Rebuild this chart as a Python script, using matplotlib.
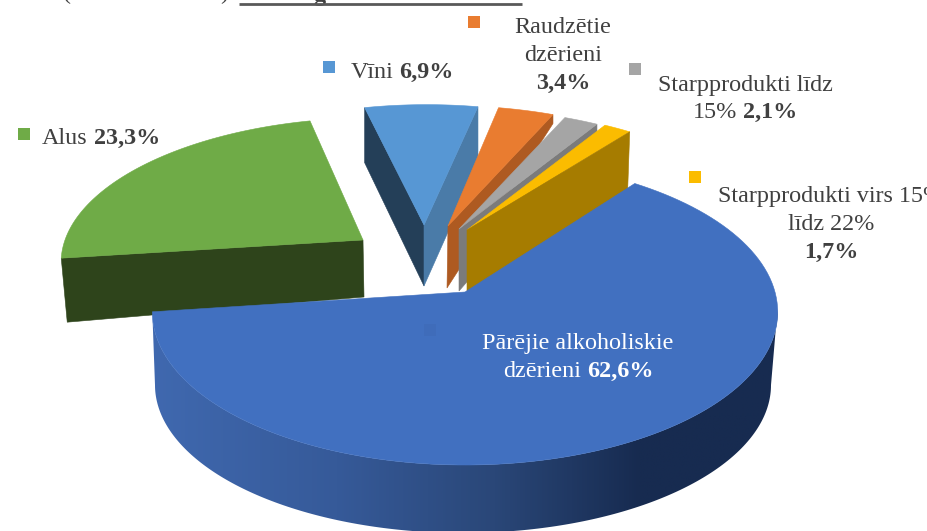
import numpy as np
import matplotlib
matplotlib.use("Agg")
import matplotlib.pyplot as plt
from matplotlib.patches import Polygon, Rectangle
from matplotlib.colors import LinearSegmentedColormap

# ---- data ----
categories = ["Pārējie alkoholiskie dzērieni", "Starpprodukti virs 15% līdz 22%",
              "Starpprodukti līdz 15%", "Raudzētie dzērieni", "Vīni", "Alus"]
values = [62.6, 1.7, 2.1, 3.4, 6.9, 23.3]
colors = ["#4170C0", "#FBBC00", "#A5A5A5", "#E97C30", "#5797D4", "#6FAB47"]

# ---- layout (pixels) ----
FONT = "Liberation Serif"
TEXT = "#404040"
START = 52.8          # angle where the big slice ends; others follow counter-clockwise
W, H = 928, 531

# slice: top apex, horizontal / vertical radius, perspective, skew
geo = {
    "Alus": dict(apex=(363, 240), A=298, a=138, c=.13, s=9.3),
    "Vīni": dict(apex=(424, 225), A=297, a=136, c=.13, s=2.5),
    "Raudzētie dzērieni": dict(apex=(448, 226), A=297, a=136, c=.13, s=-1),
    "Starpprodukti līdz 15%": dict(apex=(459, 229), A=297, a=136, c=.13, s=0),
    "Starpprodukti virs 15% līdz 22%": dict(apex=(467, 230), A=297, a=136, c=.13, s=0),
}
MAIN = dict(apex=(465, 292), A=310, a=150.4, c=.1307, s=0)
MAIN_B = dict(apex=(463, 385), A=308, a=148, c=0, s=0)

plt.rcParams["font.family"] = [FONT, "DejaVu Sans"]
fig = plt.figure(figsize=(W / 100, H / 100), dpi=100)
ax = fig.add_axes([0, 0, 1, 1])
ax.axis("off")


def pt(theta, apex, A, a, c, s):
    t = np.radians(theta)
    u, v = np.cos(t), np.sin(t)
    w = 1 + c * v
    return np.column_stack([apex[0] + A * u / w + s * v, apex[1] - a * v / w])


def wedge_points(t0, t1, g):
    arc = pt(np.linspace(t0, t1, 120), **g)
    return np.vstack([[g["apex"]], arc])


def poly(pts, color, z):
    p = Polygon(pts, closed=True, facecolor=color, edgecolor=color, linewidth=.4, zorder=z)
    ax.add_patch(p)
    return p


# angles from the values
spans = [v / sum(values) * 360 for v in values]
bounds = {}
cur = START
for name, sp in zip(categories[1:], spans[1:]):
    bounds[name] = (cur, cur + sp)
    cur += sp
main_bounds = (cur, START + 360)
col = dict(zip(categories, colors))


def wall(name, end, drop_apex, drop_outer, dx_apex, dx_outer, color, z):
    g = geo[name]
    p_end = pt(np.array([end]), **g)[0]
    ax_, ay_ = g["apex"]
    q = [(ax_, ay_), tuple(p_end), (p_end[0] + dx_outer, p_end[1] + drop_outer),
         (ax_ + dx_apex, ay_ + drop_apex)]
    poly(q, color, z)


# Alus
n = "Alus"
wall(n, bounds[n][1], 57, 64, 1, 6, "#2E441B", 1)
poly(wedge_points(*bounds[n], geo[n]), col[n], 2)
# Vīni
n = "Vīni"
wall(n, bounds[n][1], 61, 55, 0, 0, "#243F58", 3)
wall(n, bounds[n][0], 61, 58, 0, 0, "#4A7BA8", 3)
poly(wedge_points(*bounds[n], geo[n]), col[n], 4)
# Raudzētie
n = "Raudzētie dzērieni"
wall(n, bounds[n][0], 62, 9, -1, 0, "#AE5A21", 5)
poly(wedge_points(*bounds[n], geo[n]), col[n], 6)
# Starpprodukti līdz 15%
n = "Starpprodukti līdz 15%"
wall(n, bounds[n][0], 62, 8, 0, 0, "#7B7B7B", 7)
poly(wedge_points(*bounds[n], geo[n]), col[n], 8)
# Starpprodukti virs 15%
n = "Starpprodukti virs 15% līdz 22%"
wall(n, bounds[n][0], 62, 57, 0, -2, "#A67C00", 10)
poly(wedge_points(*bounds[n], geo[n]), col[n], 9)

# big slice: gradient side wall + top
t0 = main_bounds[0]
top_arc = pt(np.linspace(t0, 354, 200), **MAIN)
bot_arc = pt(np.linspace(360, 180, 200), **MAIN_B)
clip = Polygon(np.vstack([top_arc, bot_arc]), closed=True, facecolor="none", edgecolor="none", zorder=11)
ax.add_patch(clip)
cmap = LinearSegmentedColormap.from_list(
    "w", [(0, "#4069B0"), (.3, "#365A99"), (.55, "#2A4778"), (.78, "#172B50"), (1, "#172B50")])
im = ax.imshow(np.linspace(0, 1, 512)[None, :], extent=(146, 780, H + 10, 290), cmap=cmap,
               aspect="auto", zorder=11)
im.set_clip_path(clip)
poly(wedge_points(*main_bounds, MAIN), col[categories[0]], 12)

ax.set_xlim(0, W)
ax.set_ylim(H, 0)

# ---- legend keys ----
keys = {"Raudzētie dzērieni": (468, 16), "Vīni": (323, 61), "Starpprodukti līdz 15%": (629, 63),
        "Starpprodukti virs 15% līdz 22%": (689, 171), "Alus": (18, 128)}
for k, (x, y) in keys.items():
    ax.add_patch(Rectangle((x, y), 12, 12, facecolor=col[k], edgecolor="none", zorder=20))
ax.add_patch(Rectangle((424, 324), 12, 12, facecolor="#3F6CBA", edgecolor="none", zorder=20))

# ---- labels ----
FS = 17.4
fig.canvas.draw()
rend = fig.canvas.get_renderer()


def pct(name):
    return f"{values[categories.index(name)]:.1f}".replace(".", ",") + "%"


def line(cx, y, runs, color=TEXT):
    """Centre a line made of (text, bold) runs on cx."""
    arts = [ax.text(0, y, t, fontsize=FS, color=color, va="center_baseline", ha="left", zorder=21,
                    fontweight="bold" if b else "normal", family=[FONT, "DejaVu Sans"])
            for t, b in runs]
    ws = [a.get_window_extent(rend).width for a in arts]
    space = FS * 100 / 72 * .25
    total = sum(ws) + space * (len(ws) - 1)
    x = cx - total / 2
    for a, w in zip(arts, ws):
        a.set_x(x)
        x += w + space


line(563, 25, [("Raudzētie", False)])
line(563, 53, [("dzērieni", False)])
line(563, 81, [(pct("Raudzētie dzērieni"), True)])
line(402, 70, [("Vīni", False), (pct("Vīni"), True)])
line(101, 136, [("Alus", False), (pct("Alus"), True)])
line(745, 83, [("Starpprodukti līdz", False)])
line(745, 110, [("15%", False), (pct("Starpprodukti līdz 15%"), True)])
line(831, 194, [("Starpprodukti virs 15%", False)])
line(831, 222, [("līdz 22%", False)])
line(831, 250, [(pct("Starpprodukti virs 15% līdz 22%"), True)])
line(578, 341, [("Pārējie alkoholiskie", False)], "white")
line(578, 369, [("dzērieni", False), (pct(categories[0]), True)], "white")

# ---- cropped title remains at the top edge ----
ax.plot([239, 522], [4.3, 4.3], color="#595959", lw=2, solid_capstyle="butt", zorder=22)
for x, t, b in [(67, "(", False), (224, ")", False), (319, "g", True)]:
    ax.text(x, 4 if t != "g" else 6, t, ha="center", va="bottom", fontsize=FS, color=TEXT,
            fontweight="bold" if b else "normal")

fig.savefig("out.png", dpi=100)
